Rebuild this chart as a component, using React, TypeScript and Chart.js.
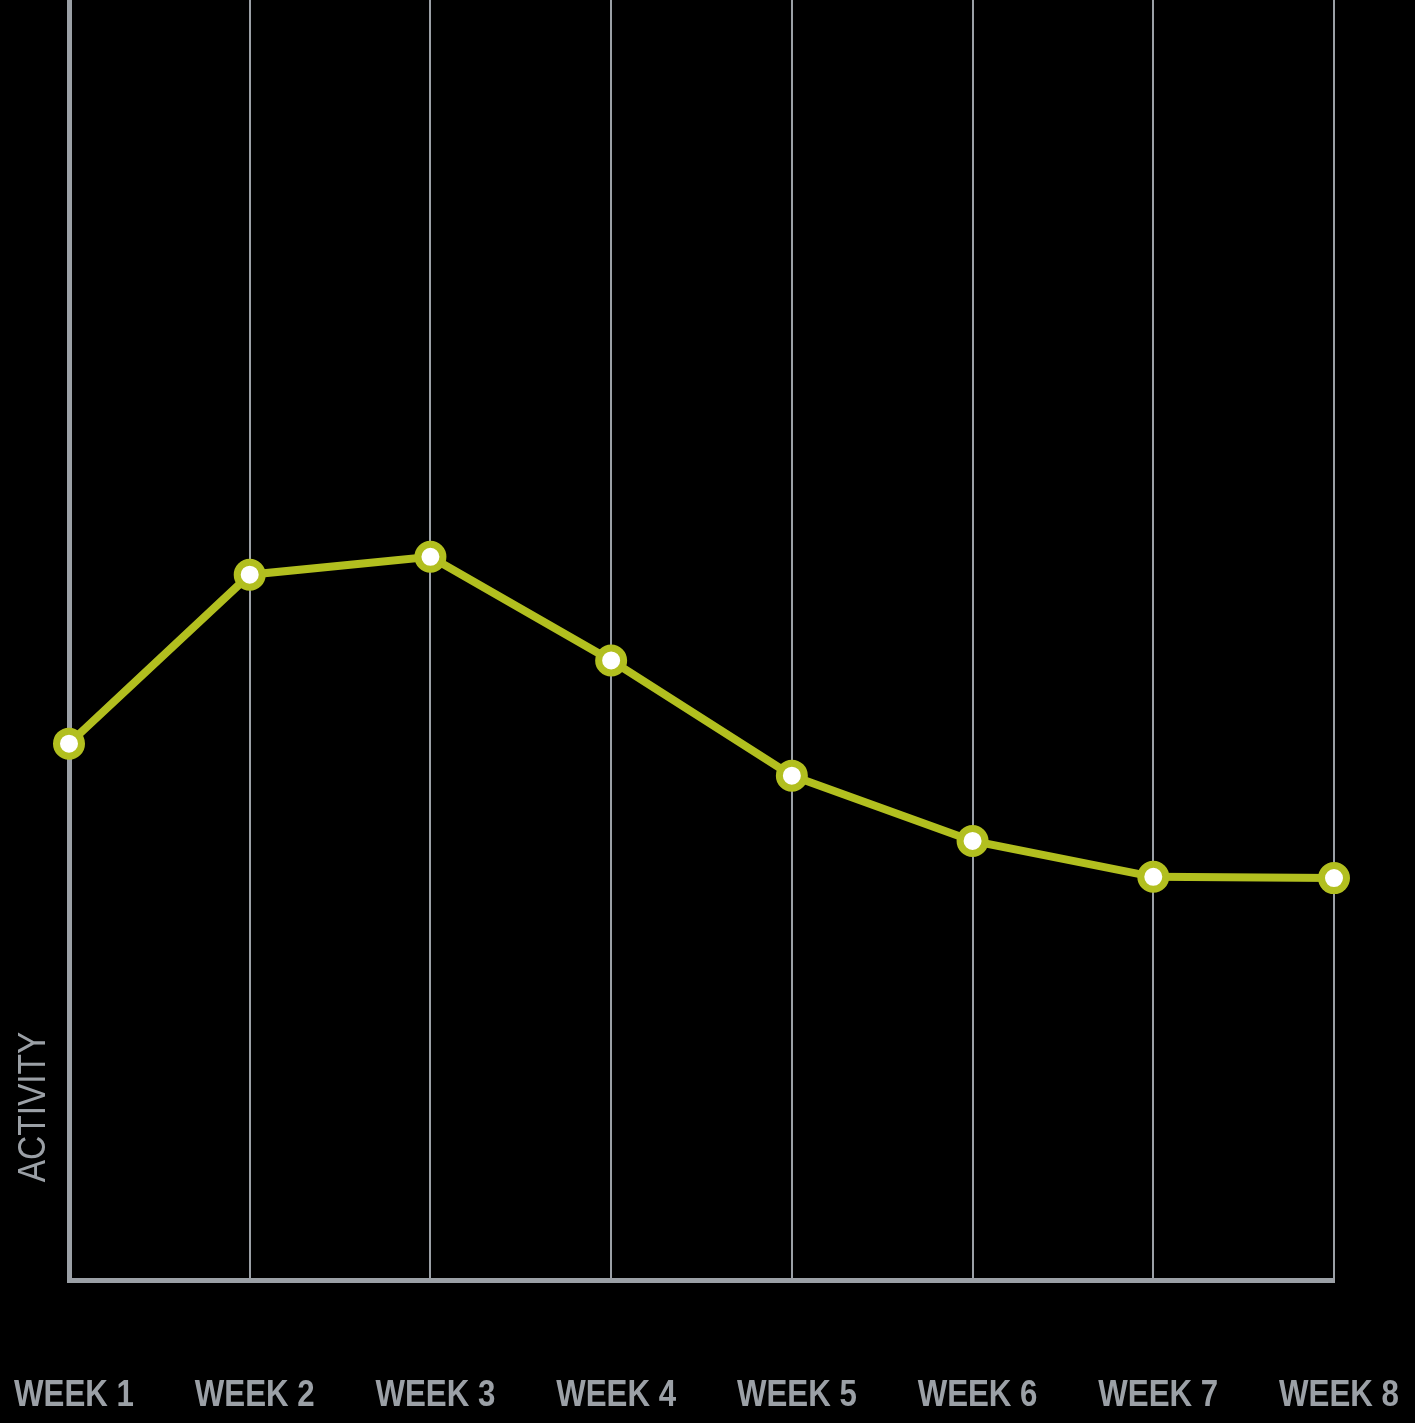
import React, { useEffect, useRef } from "react";
import { Chart, registerables } from "chart.js";

Chart.register(...registerables);

const weekLabels = ["WEEK 1", "WEEK 2", "WEEK 3", "WEEK 4", "WEEK 5", "WEEK 6", "WEEK 7", "WEEK 8"];
const activityValues = [41.9, 55.1, 56.5, 48.4, 39.4, 34.3, 31.5, 31.4];
const yAxisTitle = "ACTIVITY";

const GRAY = "#9ba0a6";
const GREEN = "#b2bf1f";
const FONT = "'Liberation Sans', Arial, sans-serif";

const bgPlugin = {
  id: "bg",
  beforeDraw(chart: any) {
    const { ctx, width, height } = chart;
    ctx.save();
    ctx.fillStyle = "#000";
    ctx.fillRect(0, 0, width, height);
    ctx.restore();
  },
};

// Draws the category tick labels (condensed) and the rotated y-axis title
const labelsPlugin = {
  id: "condensedLabels",
  afterDraw(chart: any) {
    const { ctx } = chart;
    const xScale = chart.scales.x;
    ctx.save();
    ctx.fillStyle = GRAY;
    ctx.font = `bold 37px ${FONT}`;
    ctx.textAlign = "center";
    ctx.textBaseline = "alphabetic";
    const labels = chart.data.labels as string[];
    labels.forEach((lbl, i) => {
      const x = xScale.getPixelForTick(i) + 5;
      ctx.save();
      ctx.translate(x, 1406);
      ctx.scale(0.845, 1);
      ctx.fillText(lbl, 0, 0);
      ctx.restore();
    });
    ctx.restore();

    ctx.save();
    ctx.fillStyle = GRAY;
    ctx.font = `38px ${FONT}`;
    ctx.textAlign = "center";
    ctx.textBaseline = "alphabetic";
    ctx.translate(45, 1107);
    ctx.rotate(-Math.PI / 2);
    ctx.scale(0.88, 1);
    ctx.fillText(yAxisTitle, 0, 0);
    ctx.restore();
  },
};

export default function App() {
  const ref = useRef<HTMLCanvasElement | null>(null);
  useEffect(() => {
    if (!ref.current) return;
    const chart = new Chart(ref.current, {
      type: "line",
      data: {
        labels: weekLabels,
        datasets: [
          {
            data: activityValues,
            borderColor: GREEN,
            borderWidth: 8,
            pointRadius: 12.5,
            pointBorderWidth: 7,
            pointBackgroundColor: "#ffffff",
            pointBorderColor: GREEN,
            tension: 0,
            clip: false as any,
          },
        ],
      },
      options: {
        animation: false,
        responsive: false,
        maintainAspectRatio: false,
        layout: { autoPadding: false, padding: { left: 0, right: 81, top: 0, bottom: 0 } },
        plugins: { legend: { display: false }, tooltip: { enabled: false } },
        scales: {
          x: {
            type: "category",
            offset: false,
            afterFit(scale: any) {
              scale.height = 143;
            },
            grid: {
              display: true,
              color: GRAY,
              lineWidth: 2,
              drawTicks: false,
            },
            border: { display: true, color: GRAY, width: 5 },
            ticks: { display: false, autoSkip: false },
          },
          y: {
            min: 0,
            max: 100,
            afterFit(scale: any) {
              scale.width = 69;
            },
            grid: { display: false, drawTicks: false },
            border: { display: true, color: GRAY, width: 5 },
            ticks: { display: false },
          },
        },
      },
      plugins: [bgPlugin, labelsPlugin],
    });
    return () => chart.destroy();
  }, []);
  return (
    <div style={{ position: "absolute", left: 0, top: 0, width: 1415, height: 1423, background: "#000" }}>
      <canvas ref={ref} width={1415} height={1423} style={{ display: "block" }} />
    </div>
  );
}
